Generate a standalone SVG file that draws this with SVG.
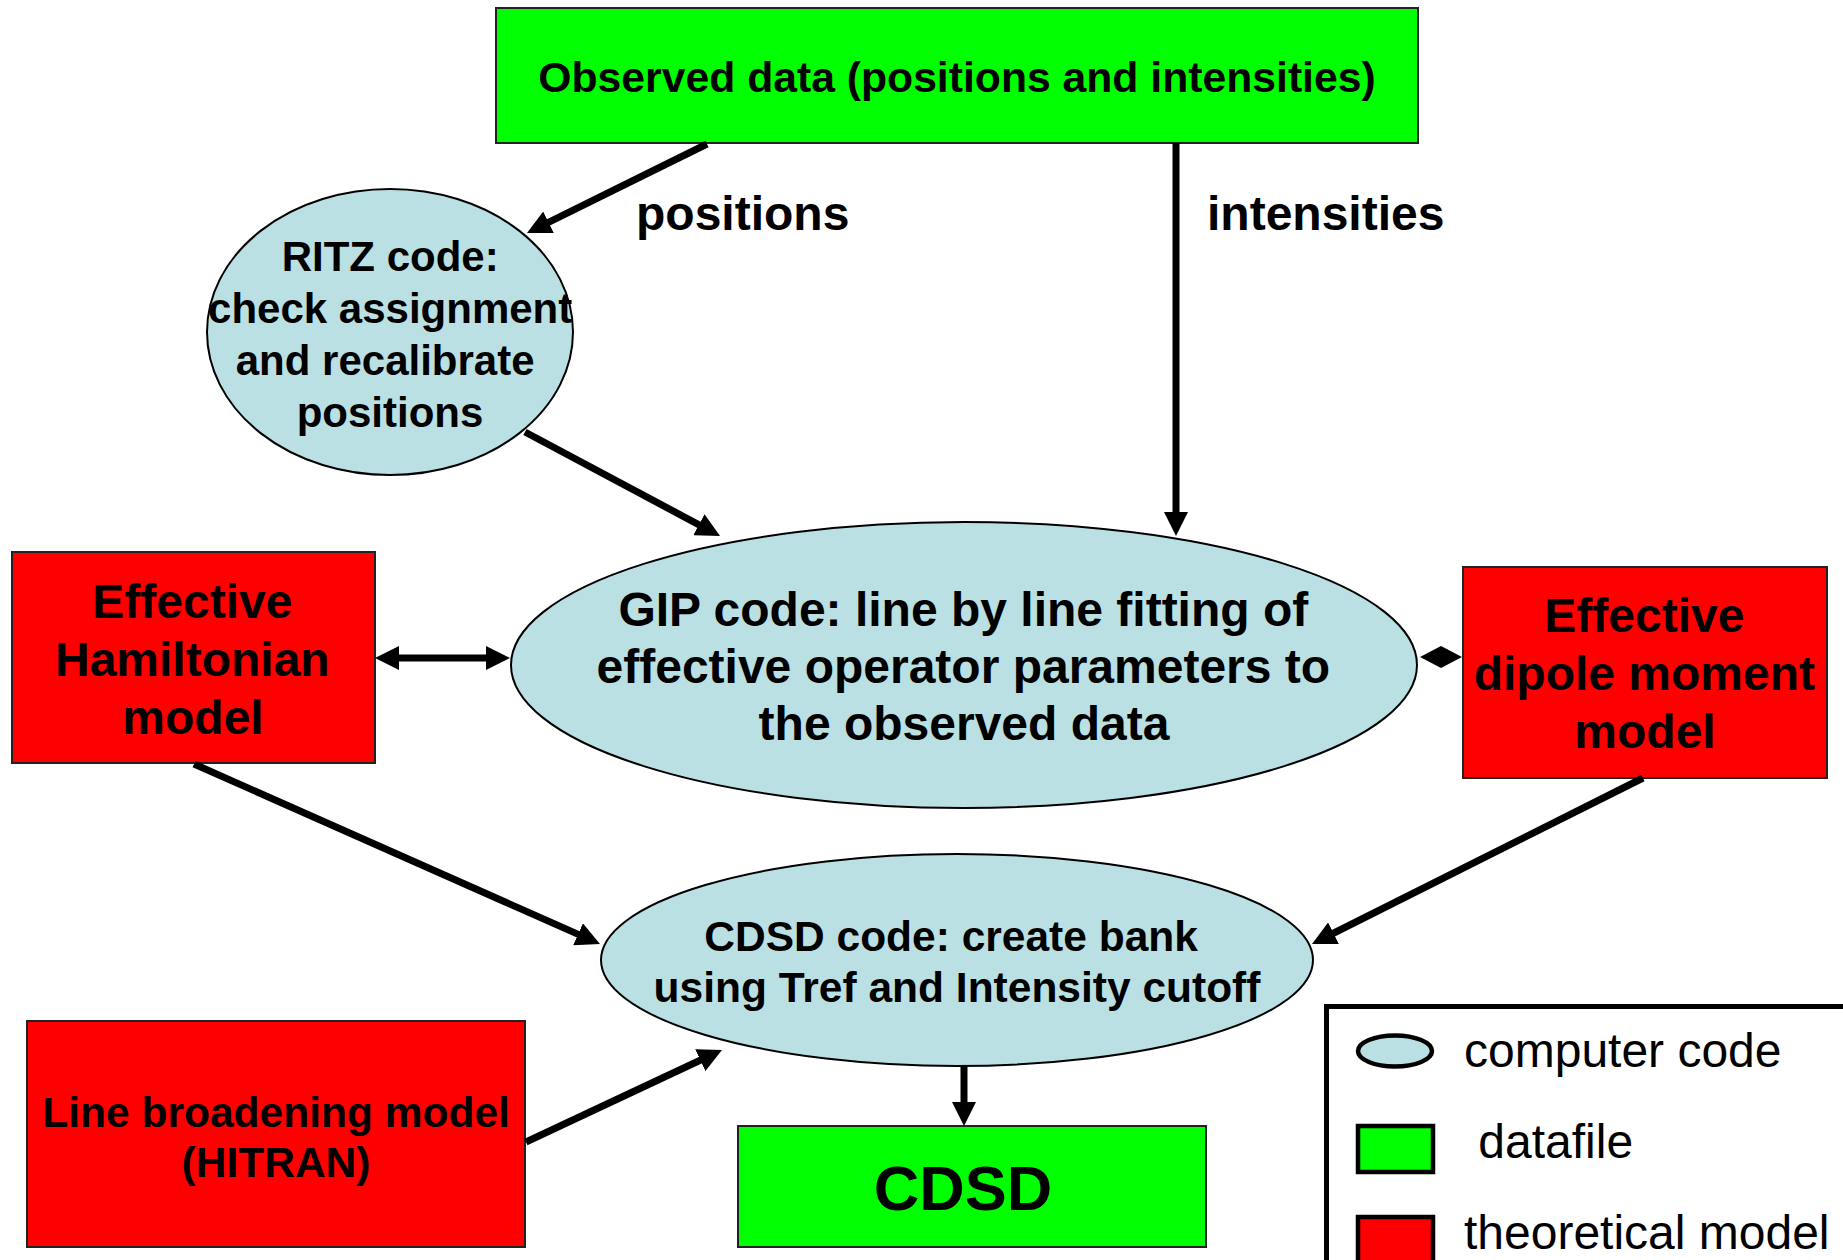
<svg xmlns="http://www.w3.org/2000/svg" width="1843" height="1260" viewBox="0 0 1843 1260">
  <style>
    .lbl { font-family: "Liberation Sans", Arial, sans-serif; font-weight: bold; fill: #000; text-anchor: middle; }
    .leg { font-family: "Liberation Sans", Arial, sans-serif; fill: #000; }
    .data { fill: #00FF00; stroke: #222; stroke-width: 2; }
    .model { fill: #FF0000; stroke: #222; stroke-width: 2; }
    .code { fill: #BAE0E3; stroke: #000; stroke-width: 2; }
    .conn { stroke: #000; stroke-width: 7; fill: none; }
  </style>
  <defs>
    <marker id="arrow" viewBox="0 0 24 24" markerWidth="24" markerHeight="24" markerUnits="userSpaceOnUse" refX="4" refY="12" orient="auto-start-reverse">
      <path d="M0,0 L24,12 L0,24 Z" fill="#000"/>
    </marker>
  </defs>

  <rect width="1843" height="1260" fill="#fff"/>

  <!-- Input data file -->
  <g id="observed-data">
    <rect class="data" x="496" y="8" width="922" height="135"/>
    <text class="lbl" x="957" y="92" font-size="42.7">Observed data (positions and intensities)</text>
  </g>

  <!-- Connector labels -->
  <g id="labels">
    <text class="lbl" x="636" y="230" font-size="48" style="text-anchor:start">positions</text>
    <text class="lbl" x="1207" y="230" font-size="48" style="text-anchor:start">intensities</text>
  </g>

  <!-- RITZ code -->
  <g id="ritz">
    <ellipse class="code" cx="390" cy="332" rx="183" ry="143"/>
    <text class="lbl" font-size="42">
      <tspan x="396" y="271">RITZ code:</tspan>
      <tspan x="396" y="323">check assignment</tspan>
      <tspan x="391" y="375">and recalibrate</tspan>
      <tspan x="390" y="427">positions</tspan>
    </text>
  </g>

  <!-- GIP code -->
  <g id="gip">
    <ellipse class="code" cx="964" cy="665" rx="453" ry="143"/>
    <text class="lbl" font-size="48">
      <tspan x="970" y="626">GIP code: line by line fitting of</tspan>
      <tspan x="970" y="683">effective operator parameters to</tspan>
      <tspan x="964" y="740">the observed data</tspan>
    </text>
  </g>

  <!-- Effective Hamiltonian model -->
  <g id="hamiltonian">
    <rect class="model" x="12" y="552" width="363" height="211"/>
    <text class="lbl" font-size="48">
      <tspan x="199" y="618">Effective</tspan>
      <tspan x="199" y="676">Hamiltonian</tspan>
      <tspan x="193" y="734">model</tspan>
    </text>
  </g>

  <!-- Effective dipole moment model -->
  <g id="dipole">
    <rect class="model" x="1463" y="567" width="364" height="211"/>
    <text class="lbl" font-size="48">
      <tspan x="1651" y="632">Effective</tspan>
      <tspan x="1651" y="690">dipole moment</tspan>
      <tspan x="1645" y="748">model</tspan>
    </text>
  </g>

  <!-- CDSD code -->
  <g id="cdsd-code">
    <ellipse class="code" cx="957" cy="960" rx="356" ry="106"/>
    <text class="lbl" font-size="42.5">
      <tspan x="957" y="951">CDSD code: create bank</tspan>
      <tspan x="957" y="1002">using Tref and Intensity cutoff</tspan>
    </text>
  </g>

  <!-- Line broadening model -->
  <g id="broadening">
    <rect class="model" x="27" y="1021" width="498" height="226"/>
    <text class="lbl" font-size="42.5">
      <tspan x="282" y="1127">Line broadening model</tspan>
      <tspan x="276" y="1177">(HITRAN)</tspan>
    </text>
  </g>

  <!-- Output databank -->
  <g id="cdsd">
    <rect class="data" x="738" y="1126" width="468" height="121"/>
    <text class="lbl" x="963" y="1210" font-size="63">CDSD</text>
  </g>

  <!-- Connectors -->
  <g id="connectors">
    <line class="conn" x1="707" y1="144" x2="544.9" y2="224.1" marker-end="url(#arrow)"/>
    <line class="conn" x1="525" y1="432" x2="702.4" y2="526.6" marker-end="url(#arrow)"/>
    <line class="conn" x1="1176" y1="143" x2="1176" y2="516" marker-end="url(#arrow)"/>
    <line class="conn" x1="395" y1="658" x2="490" y2="658" marker-start="url(#arrow)" marker-end="url(#arrow)"/>
    <polygon points="1420,657 1441,646 1462,657 1441,668" fill="#000"/>
    <line class="conn" x1="194" y1="764" x2="581.7" y2="935.9" marker-end="url(#arrow)"/>
    <line class="conn" x1="1643" y1="778" x2="1329.9" y2="935" marker-end="url(#arrow)"/>
    <line class="conn" x1="526" y1="1142" x2="703.9" y2="1058.5" marker-end="url(#arrow)"/>
    <line class="conn" x1="964" y1="1066" x2="964" y2="1106" marker-end="url(#arrow)"/>
  </g>

  <!-- Legend -->
  <g id="legend">
    <rect x="1326.5" y="1006.5" width="600" height="400" fill="#fff" stroke="#000" stroke-width="5"/>
    <ellipse cx="1395" cy="1051" rx="37" ry="15.5" fill="#BAE0E3" stroke="#000" stroke-width="4.5"/>
    <text class="leg" x="1464" y="1067" font-size="48">computer code</text>
    <rect x="1358" y="1126" width="75" height="46" fill="#00FF00" stroke="#000" stroke-width="4.5"/>
    <text class="leg" x="1465" y="1158" font-size="48" xml:space="preserve"> datafile</text>
    <rect x="1358" y="1217" width="75" height="60" fill="#FF0000" stroke="#000" stroke-width="4.5"/>
    <text class="leg" x="1464" y="1249" font-size="48">theoretical model</text>
  </g>
</svg>
